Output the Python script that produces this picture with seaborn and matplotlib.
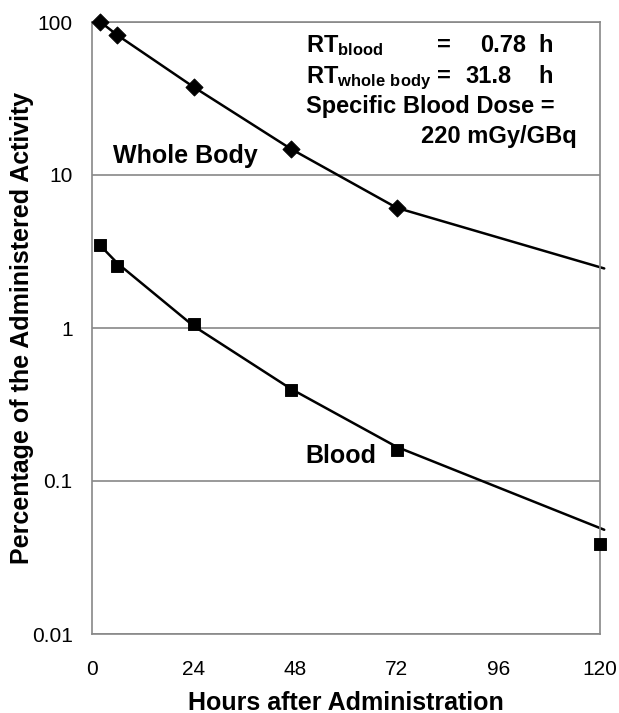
import matplotlib
matplotlib.use("Agg")
import matplotlib.pyplot as plt
import seaborn as sns
import pandas as pd

# Measured data
wb_hours = [2, 6, 24, 47, 72]
wb_pct = [100, 82, 37.6, 14.8, 6.1]
blood_hours = [2, 6, 24, 47, 72, 120]
blood_pct = [3.48, 2.55, 1.07, 0.395, 0.16, 0.039]

# Fitted curves
wb_fit_hours = [2, 6, 24, 47, 72, 121]
wb_fit_pct = [100, 82, 37.6, 14.8, 6.1, 2.45]
blood_fit_hours = [2, 6, 24, 47, 72, 121]
blood_fit_pct = [3.45, 2.65, 1.03, 0.40, 0.167, 0.048]

x_ticks = [0, 24, 48, 72, 96, 120]
y_ticks = [0.01, 0.1, 1, 10, 100]
y_labels = ["0.01", "0.1", "1", "10", "100"]

sns.set_style("white")
plt.rcParams["font.family"] = ["Liberation Sans", "DejaVu Sans"]
plt.rcParams["text.color"] = "black"
plt.rcParams["axes.labelcolor"] = "black"
plt.rcParams["xtick.color"] = "black"
plt.rcParams["ytick.color"] = "black"
plt.rcParams["mathtext.fontset"] = "custom"
plt.rcParams["mathtext.rm"] = "Liberation Sans"
plt.rcParams["mathtext.bf"] = "Liberation Sans:bold"

wb = pd.DataFrame({"h": wb_hours, "p": wb_pct})
bl = pd.DataFrame({"h": blood_hours, "p": blood_pct})
wb_fit = pd.DataFrame({"h": wb_fit_hours, "p": wb_fit_pct})
bl_fit = pd.DataFrame({"h": blood_fit_hours, "p": blood_fit_pct})

fig = plt.figure(figsize=(6.19, 7.13), dpi=100)
ax = fig.add_axes([92 / 619, 79 / 713, 508 / 619, 612 / 713])
ax.set_yscale("log")

sns.lineplot(data=wb_fit, x="h", y="p", ax=ax, color="black", lw=1.8, clip_on=False)
sns.lineplot(data=bl_fit, x="h", y="p", ax=ax, color="black", lw=1.8, clip_on=False)
sns.scatterplot(data=wb, x="h", y="p", ax=ax, marker="D", s=75, color="black",
                edgecolor="black", clip_on=False, zorder=5)
sns.scatterplot(data=bl, x="h", y="p", ax=ax, marker="s", s=65, color="black",
                edgecolor="black", clip_on=False, zorder=5)

ax.set_xlim(0, 120)
ax.set_ylim(0.01, 100)
ax.set_xticks(x_ticks)
ax.set_xticklabels([str(t) for t in x_ticks])
ax.set_yticks(y_ticks)
ax.set_yticklabels(y_labels)
ax.minorticks_off()
ax.yaxis.grid(True, color="#888888", lw=1.2)
ax.set_axisbelow(True)
for s in ax.spines.values():
    s.set_color("#888888")
    s.set_linewidth(1.2)
ax.tick_params(axis="x", direction="in", length=5, color="#888888", labelsize=15, pad=19)
ax.tick_params(axis="y", length=0, labelsize=15, pad=14)

ax.set_xlabel("Hours after Administration", fontsize=18, fontweight="bold", labelpad=8)
ax.set_ylabel("Percentage of the Administered Activity", fontsize=18, fontweight="bold", labelpad=-2)

tf = ax.transAxes
fs = 17
ax.text(0.041, 0.770, "Whole Body", transform=tf, fontsize=18, fontweight="bold", va="baseline")
ax.text(0.421, 0.279, "Blood", transform=tf, fontsize=18, fontweight="bold", va="baseline")

ax.text(0.421, 0.951, r"$\mathbf{RT_{blood}}$", transform=tf, fontsize=fs, va="baseline")
ax.text(0.679, 0.951, "=", transform=tf, fontsize=fs, fontweight="bold", va="baseline")
ax.text(0.764, 0.951, "0.78", transform=tf, fontsize=fs, fontweight="bold", va="baseline")
ax.text(0.878, 0.951, "h", transform=tf, fontsize=fs, fontweight="bold", va="baseline")
ax.text(0.421, 0.900, r"$\mathbf{RT_{whole\ body}}$", transform=tf, fontsize=fs, va="baseline")
ax.text(0.679, 0.900, "=", transform=tf, fontsize=fs, fontweight="bold", va="baseline")
ax.text(0.736, 0.900, "31.8", transform=tf, fontsize=fs, fontweight="bold", va="baseline")
ax.text(0.878, 0.900, "h", transform=tf, fontsize=fs, fontweight="bold", va="baseline")
ax.text(0.421, 0.851, "Specific Blood Dose =", transform=tf, fontsize=fs, fontweight="bold", va="baseline")
ax.text(0.648, 0.802, "220 mGy/GBq", transform=tf, fontsize=fs, fontweight="bold", va="baseline")

fig.savefig("out.png", dpi=100)
